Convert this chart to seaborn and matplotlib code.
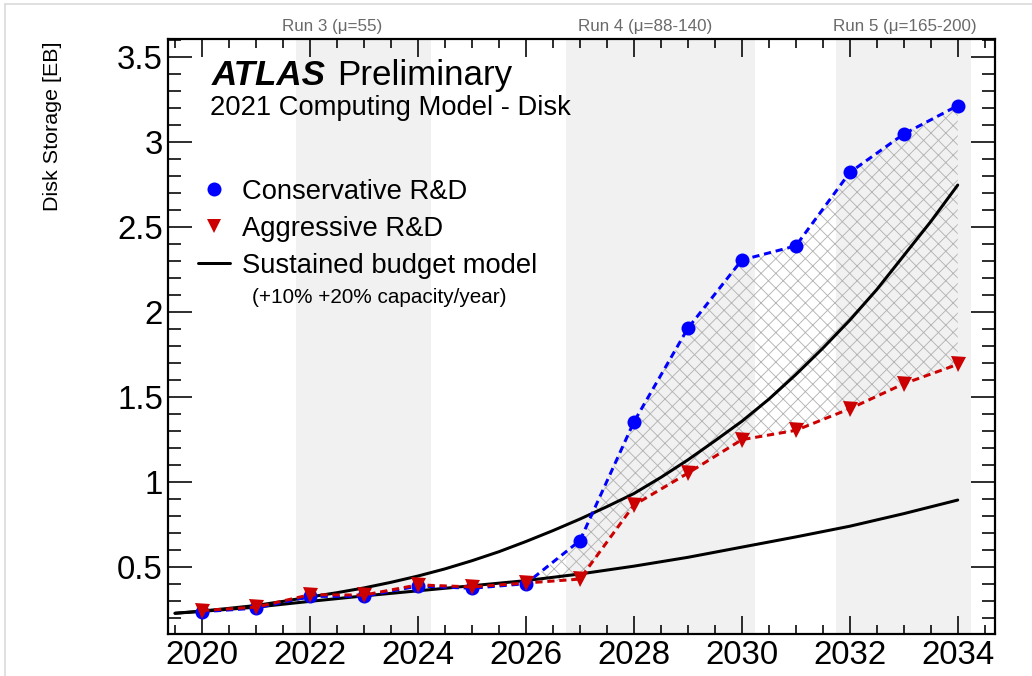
import numpy as np
import pandas as pd
import matplotlib
matplotlib.use("Agg")
import matplotlib.pyplot as plt
import matplotlib.transforms as mtransforms
from matplotlib.lines import Line2D
from matplotlib.ticker import MultipleLocator, FuncFormatter
import seaborn as sns

# ---------------- data ----------------
years = [2020, 2021, 2022, 2023, 2024, 2025, 2026, 2027,
         2028, 2029, 2030, 2031, 2032, 2033, 2034]
conservative = [0.235, 0.256, 0.325, 0.326, 0.386, 0.373, 0.400, 0.653,
                1.351, 1.902, 2.304, 2.387, 2.819, 3.045, 3.212]
aggressive = [0.242, 0.262, 0.335, 0.333, 0.393, 0.381, 0.404, 0.427,
              0.862, 1.050, 1.247, 1.302, 1.429, 1.576, 1.690]

# sustained budget model, +10% capacity/year
budget10_years = [2019.5, 2020, 2021, 2022, 2023, 2024, 2025, 2026, 2027,
                  2028, 2029, 2030, 2031, 2032, 2033, 2034]
budget10 = [0.226, 0.237, 0.262, 0.296, 0.328, 0.358, 0.388, 0.418, 0.457,
            0.503, 0.555, 0.615, 0.675, 0.738, 0.812, 0.892]

# sustained budget model, +20% capacity/year
budget20_years = [2019.5, 2020, 2020.5, 2021, 2021.5, 2022, 2022.5, 2023, 2023.5,
                  2024, 2024.5, 2025, 2025.5, 2026, 2026.5, 2027, 2027.5, 2028,
                  2028.5, 2029, 2029.5, 2030, 2030.5, 2031, 2031.5, 2032, 2032.5,
                  2033, 2033.5, 2034]
budget20 = [0.226, 0.239, 0.255, 0.272, 0.296, 0.322, 0.347, 0.375, 0.408,
            0.445, 0.487, 0.535, 0.588, 0.648, 0.712, 0.780, 0.853, 0.930,
            1.025, 1.128, 1.240, 1.355, 1.485, 1.630, 1.785, 1.950, 2.130,
            2.330, 2.530, 2.745]

run_starts = [2021.75, 2026.75, 2031.75]
run_ends = [2024.25, 2030.25, 2034.25]
run_labels = ["Run 3 (\u03bc=55)", "Run 4 (\u03bc=88-140)", "Run 5 (\u03bc=165-200)"]
run_label_x = [2022.41, 2028.2, 2033.02]
hatch_start = 2026

legend_labels = ["Conservative R&D", "Aggressive R&D", "Sustained budget model"]
x_ticks = [2020, 2022, 2024, 2026, 2028, 2030, 2032, 2034]

# ---------------- style ----------------
W, H = 1032, 676
DPI = 1032 / 7.74


def px(v):
    return v * 72.0 / DPI


sns.set_theme(style="white")
plt.rcParams["font.family"] = ["Liberation Sans", "DejaVu Sans"]
plt.rcParams["hatch.linewidth"] = px(0.9)
plt.rcParams["hatch.color"] = "#b4b4b4"
for k in ["text.color", "axes.labelcolor", "xtick.color", "ytick.color",
          "axes.edgecolor"]:
    plt.rcParams[k] = "black"

BLUE = "#0000ff"
RED = "#cc0000"

fig = plt.figure(figsize=(W / DPI, H / DPI), dpi=DPI)
fig.patch.set_facecolor("white")
ax = fig.add_axes([168 / W, 1 - 634 / H, (995 - 168) / W, (634 - 39) / H])
ax.set_facecolor("white")

# run bands
for a, b in zip(run_starts, run_ends):
    ax.axvspan(a, b, color="#f1f1f1", lw=0, zorder=0)

df = pd.DataFrame({"year": years, "cons": conservative, "aggr": aggressive})
b10 = pd.DataFrame({"year": budget10_years, "cap": budget10})
b20 = pd.DataFrame({"year": budget20_years, "cap": budget20})

sel = df[df["year"] >= hatch_start]
ax.fill_between(sel["year"], sel["aggr"], sel["cons"], facecolor="none",
                edgecolor="#b4b4b4", hatch="xxx", linewidth=0, zorder=1)

sns.lineplot(data=b10, x="year", y="cap", color="black", lw=px(3), ax=ax, zorder=2)
sns.lineplot(data=b20, x="year", y="cap", color="black", lw=px(3), ax=ax, zorder=2)

sns.lineplot(data=df, x="year", y="cons", color=BLUE, marker="o", markersize=px(14),
             markeredgewidth=0, linestyle=(0, (2.4, 1.6)), lw=px(3), ax=ax, zorder=3)
sns.lineplot(data=df, x="year", y="aggr", color=RED, marker="v", markersize=px(15),
             markeredgewidth=0, linestyle=(0, (2.4, 1.6)), lw=px(3), ax=ax, zorder=4)

# axes
ax.set_xlim(2019.37, 2034.69)
ax.set_ylim(0.104, 3.604)
ax.set_xticks(x_ticks)
ax.xaxis.set_minor_locator(MultipleLocator(0.5))
ax.yaxis.set_major_locator(MultipleLocator(0.5))
ax.yaxis.set_minor_locator(MultipleLocator(0.1))
ax.xaxis.set_major_formatter(FuncFormatter(lambda v, p: f"{int(round(v))}"))
ax.yaxis.set_major_formatter(FuncFormatter(lambda v, p: f"{v:g}"))

for s in ax.spines.values():
    s.set_visible(True)
    s.set_color("black")
    s.set_linewidth(px(2.2))

ax.tick_params(axis="both", which="both", direction="in", top=True, right=True,
               bottom=True, left=True, color="black", width=px(1.6))
ax.tick_params(axis="x", which="major", length=px(18), labelsize=px(33), pad=px(6))
ax.tick_params(axis="x", which="minor", length=px(9))
ax.tick_params(axis="y", which="major", length=px(24), labelsize=px(33), pad=px(5))
ax.tick_params(axis="y", which="minor", length=px(13))

ax.set_xlabel("")
ax.set_ylabel("Disk Storage [EB]", fontsize=px(21.5), loc="top")
ax.yaxis.set_label_coords(-0.128, 0.995)

# texts
ax.text(0.0532, 0.9227, "ATLAS", transform=ax.transAxes, fontsize=px(35),
        fontweight="bold", fontstyle="italic", va="baseline", ha="left")
ax.text(0.2044, 0.9227, "Preliminary", transform=ax.transAxes, fontsize=px(35),
        va="baseline", ha="left")
ax.text(0.0508, 0.872, "2021 Computing Model - Disk", transform=ax.transAxes,
        fontsize=px(27.4), va="baseline", ha="left")

handles = [
    Line2D([], [], ls="none", marker="o", color=BLUE, markersize=px(14), markeredgewidth=0),
    Line2D([], [], ls="none", marker="v", color=RED, markersize=px(14), markeredgewidth=0),
    Line2D([], [], color="black", lw=px(3)),
]
ax.legend(handles, legend_labels, loc="upper left", bbox_to_anchor=(0.036, 0.765),
          frameon=False, fontsize=px(27.4), handlelength=1.17, handletextpad=0.44,
          labelspacing=0.40, borderpad=0, borderaxespad=0)
ax.text(0.1016, 0.566, "(+10% +20% capacity/year)", transform=ax.transAxes,
        fontsize=px(20.8), va="center", ha="left")

trans = mtransforms.blended_transform_factory(ax.transData, ax.transAxes)
for xl, lab in zip(run_label_x, run_labels):
    ax.text(xl, 1.021, lab, transform=trans, ha="center", va="center",
            fontsize=px(17), color="#6a6a6a")

# canvas frame
fig.add_artist(Line2D([5 / W, 5 / W], [0, 1 - 4 / H], transform=fig.transFigure,
                      color="#d6d6d6", lw=px(1.5)))
fig.add_artist(Line2D([5 / W, 1], [1 - 4 / H, 1 - 4 / H], transform=fig.transFigure,
                      color="#d6d6d6", lw=px(1.5)))

fig.savefig("out.png", dpi=DPI, facecolor="white")
